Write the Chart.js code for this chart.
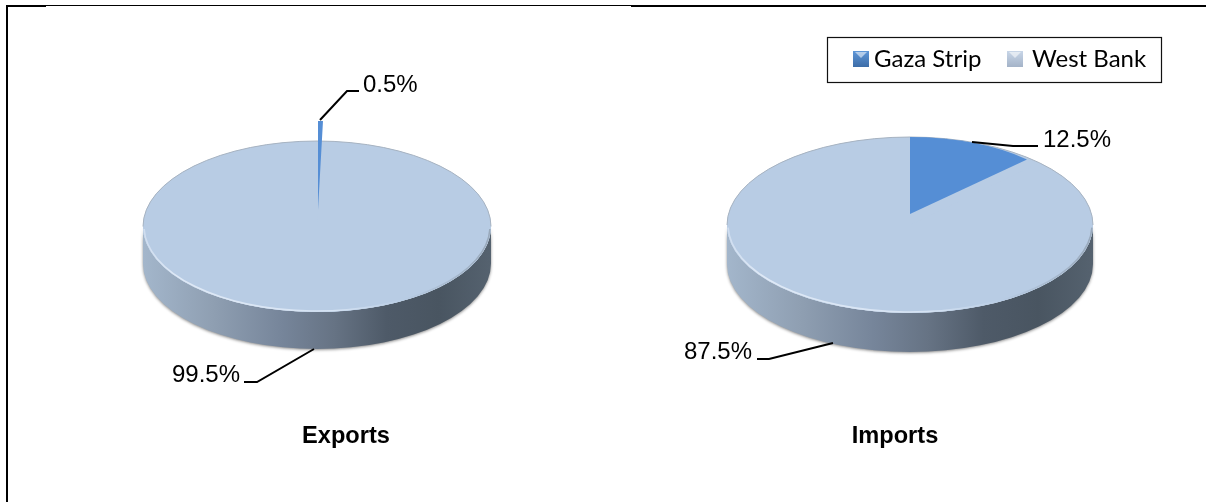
<!DOCTYPE html>
<html>
<head>
<meta charset="utf-8">
<script src="https://cdn.jsdelivr.net/npm/chart.js@4"></script>
<style>
  html, body { margin: 0; padding: 0; background: #fff; }
  #page { position: relative; width: 1206px; height: 502px; overflow: hidden; }
  #page canvas { position: absolute; left: 0; top: 0; }
  #frameTop { position: absolute; left: 6px; top: 5px; width: 1200px; height: 1px; background: #000; }
  #frameTopA { position: absolute; left: 6px; top: 5px; width: 40px; height: 2px; background: #000; }
  #frameTopB { position: absolute; left: 631px; top: 5px; width: 575px; height: 2px; background: #000; }
  #frameLeft { position: absolute; left: 6px; top: 5px; width: 2px; height: 497px; background: #000; }
</style>
</head>
<body>
<div id="page">
  <div id="frameTop"></div><div id="frameTopA"></div><div id="frameTopB"></div><div id="frameLeft"></div>
  <canvas id="exportsChart" width="1206" height="502"></canvas>
  <canvas id="importsChart" width="1206" height="502"></canvas>
</div>
<script>
const categories = ["Gaza Strip", "West Bank"];
const exportsValues = [0.5, 99.5];
const importsValues = [12.5, 87.5];
const chartTitles = ["Exports", "Imports"];

const GAZA = "#558ed5";
const WEST = "#b8cce4";
const LABEL_FONT = '24px "Liberation Sans", Arial, sans-serif';

// the 3D look: face is a squashed pie, wall is drawn under it.
// slice = where the Gaza wedge sits, its apex is off centre like in the perspective of the original
const exportsLook = {
  cx: 317, cy: 226.5, rx: 174, ry: 85.5, depth: 37,
  slice: { x: 318, y: 210, sx: 159, sy: 89 },
  labels: [
    { x: 363, y: 92, line: [[320, 120], [347, 91], [359, 91]] },
    { x: 172, y: 382, line: [[314, 349], [257, 382], [244, 382]] }
  ],
  title: { x: 346, y: 443 }
};
const importsLook = {
  cx: 910, cy: 225, rx: 183, ry: 88, depth: 39,
  slice: { x: 910, y: 214, sx: 165.5, sy: 77 },
  labels: [
    { x: 1043, y: 147, line: [[972, 142], [1013, 146], [1038, 146]] },
    { x: 684, y: 359, line: [[833, 343], [769, 359], [757, 359]] }
  ],
  title: { x: 895, y: 443 }
};

function drawWall(ctx, look) {
  const { cx, cy, rx, ry, depth } = look;
  const grad = ctx.createLinearGradient(cx - rx, 0, cx + rx, 0);
  grad.addColorStop(0, "#a3b6cb");
  grad.addColorStop(0.2, "#8f9fb2");
  grad.addColorStop(0.4, "#76859a");
  grad.addColorStop(0.55, "#667384");
  grad.addColorStop(0.7, "#4e5a68");
  grad.addColorStop(0.85, "#495561");
  grad.addColorStop(1, "#55626f");
  ctx.save();
  ctx.shadowColor = "rgba(0,0,0,0.45)";
  ctx.shadowBlur = 3;
  ctx.shadowOffsetY = 1;
  ctx.fillStyle = grad;
  ctx.beginPath();
  ctx.ellipse(cx, cy, rx, ry, 0, Math.PI, 0, true);
  ctx.lineTo(cx + rx, cy + depth);
  ctx.ellipse(cx, cy + depth, rx, ry, 0, 0, Math.PI);
  ctx.closePath();
  ctx.fill();
  ctx.restore();
}

function drawRim(ctx, look) {
  const { cx, cy, rx, ry } = look;
  ctx.save();
  ctx.lineWidth = 1;
  ctx.strokeStyle = "#a7b3c1";
  ctx.beginPath();
  ctx.ellipse(cx, cy, rx, ry, 0, Math.PI, 0);
  ctx.stroke();
  const grad = ctx.createLinearGradient(cx - rx, 0, cx + rx, 0);
  grad.addColorStop(0, "#cfddef");
  grad.addColorStop(0.1, "#dfe9f6");
  grad.addColorStop(0.55, "#d6e3f3");
  grad.addColorStop(0.75, "#b8cce4");
  grad.addColorStop(1, "#98a8ba");
  ctx.lineWidth = 1.6;
  ctx.strokeStyle = grad;
  ctx.beginPath();
  ctx.ellipse(cx, cy, rx - 1, ry - 1, 0, 0.03, Math.PI - 0.03);
  ctx.stroke();
  ctx.restore();
}

function drawArc(ctx, arc, x, y, sx, sy) {
  ctx.save();
  ctx.translate(x, y);
  ctx.scale(sx / arc.outerRadius, sy / arc.outerRadius);
  ctx.translate(-arc.x, -arc.y);
  arc.draw(ctx);
  ctx.restore();
}

function drawLabels(ctx, look, values, title) {
  ctx.save();
  ctx.fillStyle = "#000";
  ctx.strokeStyle = "#000";
  ctx.lineWidth = 2;
  ctx.textBaseline = "alphabetic";
  ctx.font = LABEL_FONT;
  look.labels.forEach((lab, i) => {
    ctx.beginPath();
    lab.line.forEach((p, n) => n ? ctx.lineTo(p[0], p[1]) : ctx.moveTo(p[0], p[1]));
    ctx.stroke();
    ctx.fillText(values[i].toFixed(1) + "%", lab.x, lab.y);
  });
  ctx.font = 'bold 23.6px "Liberation Sans", Arial, sans-serif';
  ctx.textAlign = "center";
  ctx.fillText(title, look.title.x, look.title.y);
  ctx.restore();
}

function drawLegend(ctx) {
  ctx.save();
  ctx.fillStyle = "#fff";
  ctx.fillRect(827.5, 37.5, 334, 45);
  ctx.strokeStyle = "#111";
  ctx.lineWidth = 1.2;
  ctx.strokeRect(827.5, 37.5, 334, 45);

  const swatch = (x, colA, colB) => {
    const g = ctx.createLinearGradient(0, 51, 0, 67);
    g.addColorStop(0, colA);
    g.addColorStop(1, colB);
    ctx.fillStyle = g;
    ctx.fillRect(x, 51, 16, 16);
    ctx.fillStyle = "rgba(255,255,255,0.55)";
    ctx.beginPath();
    ctx.moveTo(x + 2, 52);
    ctx.lineTo(x + 14, 52);
    ctx.lineTo(x + 8, 58);
    ctx.closePath();
    ctx.fill();
  };
  swatch(853, "#5f97d8", "#3d6da8");
  swatch(1007, "#c8d6e8", "#a4b3c8");

  ctx.fillStyle = "#000";
  ctx.font = '24px Lato, "Open Sans", sans-serif';
  ctx.fillText(categories[0], 874, 67);
  ctx.fillText(categories[1], 1032, 67);
  ctx.restore();
}

const pie3d = {
  id: "pie3d",
  beforeDatasetsDraw(chart, args, opts) {
    const { ctx } = chart;
    const look = opts.look;
    const arcs = chart.getDatasetMeta(0).data;

    drawWall(ctx, look);
    ctx.fillStyle = WEST;
    ctx.beginPath();
    ctx.ellipse(look.cx, look.cy, look.rx, look.ry, 0, 0, Math.PI * 2);
    ctx.fill();
    drawArc(ctx, arcs[1], look.cx, look.cy, look.rx, look.ry);
    drawRim(ctx, look);
    drawArc(ctx, arcs[0], look.slice.x, look.slice.y, look.slice.sx, look.slice.sy);
    drawLabels(ctx, look, opts.values, opts.title);
    if (opts.legend) drawLegend(ctx);
    return false;
  }
};

function makePie(id, values, look, title, legend) {
  return new Chart(document.getElementById(id), {
    type: "pie",
    data: {
      labels: categories,
      datasets: [{ data: values, backgroundColor: [GAZA, WEST], borderWidth: 0 }]
    },
    options: {
      responsive: false,
      animation: false,
      events: [],
      plugins: {
        legend: { display: false },
        tooltip: { enabled: false },
        pie3d: { look, values, title, legend }
      }
    },
    plugins: [pie3d]
  });
}

makePie("exportsChart", exportsValues, exportsLook, chartTitles[0], false);
makePie("importsChart", importsValues, importsLook, chartTitles[1], true);
</script>
</body>
</html>
